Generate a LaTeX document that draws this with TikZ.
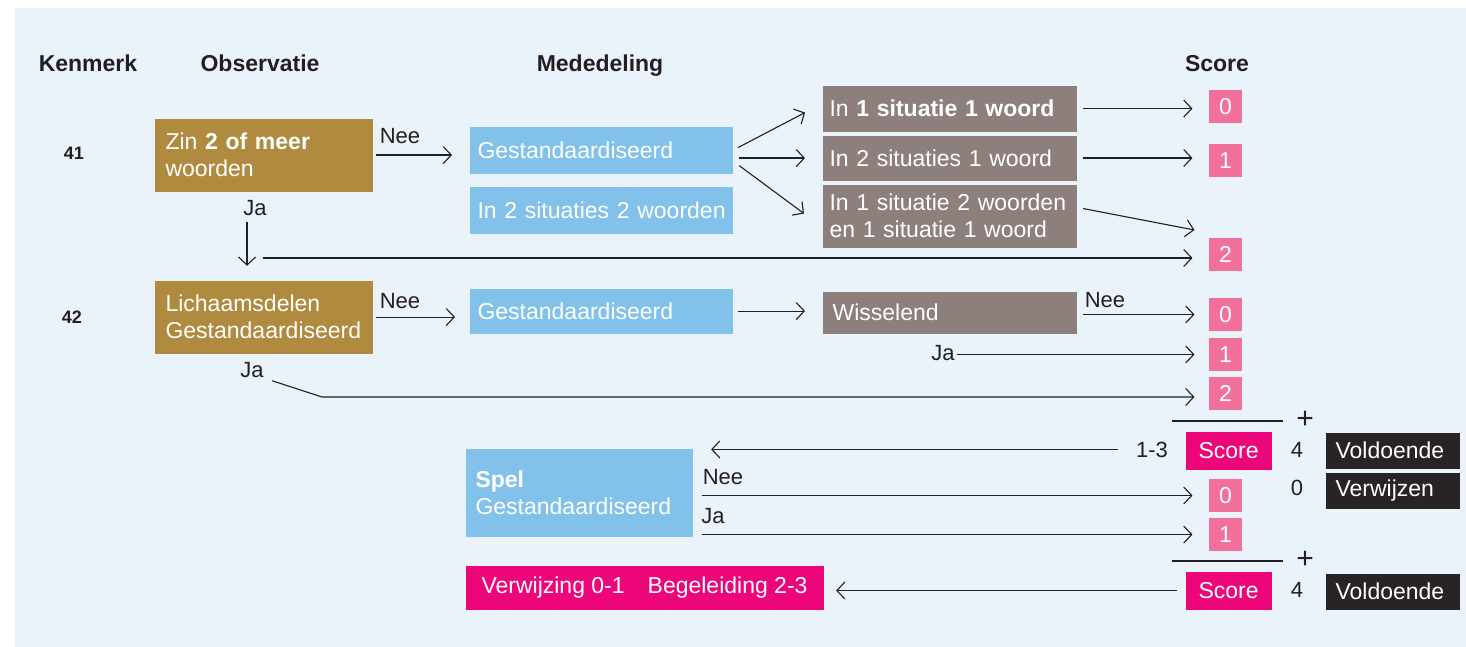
\documentclass[tikz,border=0pt]{standalone}
\usepackage{fontspec}
\setmainfont{Liberation Sans}
\usetikzlibrary{arrows.meta}

\definecolor{bgblue}{HTML}{EAF2FA}
\definecolor{gold}{HTML}{B08A3E}
\definecolor{sky}{HTML}{82C1EA}
\definecolor{taupe}{HTML}{8D7F7C}
\definecolor{rose}{HTML}{F1709C}
\definecolor{magenta}{HTML}{EC0679}
\definecolor{darkbox}{HTML}{282426}
\definecolor{ink}{HTML}{231F20}

\tikzset{every picture/.style={line width=1.1pt},
  arr/.style={draw=ink, -{Straight Barb[length=8pt,width=17pt]}},
  box/.style={anchor=north west, inner ysep=0pt, align=left, text=white, font=\fontsize{23}{27}\selectfont},
  goldbox/.style={box, fill=gold, inner xsep=11pt, text width=196pt, minimum height=73pt},
  bluebox/.style={box, fill=sky, inner xsep=8pt, text width=247pt},
  greybox/.style={box, fill=taupe, inner xsep=7pt, text width=240pt},
  pinkbox/.style={fill=rose, text=white, minimum size=33pt, inner sep=0pt, font=\fontsize{23}{27}\selectfont},
  scorebox/.style={anchor=north west, fill=magenta, text=white, minimum width=86pt, minimum height=38pt, inner sep=0pt, font=\fontsize{23}{27}\selectfont},
  darkbox/.style={box, fill=darkbox, inner xsep=10pt, text width=114pt, minimum height=36pt},
  headtext/.style={anchor=base, inner sep=0pt, text=ink, font=\fontsize{23}{27}\selectfont\bfseries},
  nrtext/.style={anchor=base, inner sep=0pt, text=ink, font=\fontsize{18}{22}\selectfont\bfseries},
  lbltext/.style={anchor=base, inner sep=0pt, text=ink, font=\fontsize{22}{26}\selectfont}}

\begin{document}
\begin{tikzpicture}[x=1pt,y=1pt,yscale=-1,xscale=1]
%Shape: Background
\fill[bgblue] (15,8) rectangle (1466,647);
\useasboundingbox (0,0) rectangle (1466,647);

% Text Node: headers
\draw (88,72) node (hKenmerk) [headtext] {Kenmerk};
\draw (260,72) node (hObservatie) [headtext] {Observatie};
\draw (600,72) node (hMededeling) [headtext] {Mededeling};
\draw (1217,72) node (hScore) [headtext] {Score};
% Text Node
\draw (74,160) node (nr41) [nrtext] {41};
\draw (72,323) node (nr42) [nrtext] {42};

%Shape: Observatie
\draw (154,118) node (zin) [goldbox] {Zin \textbf{2 of meer}\\woorden};
\draw (154,280) node (lich) [goldbox] {Lichaamsdelen\\Gestandaardiseerd};

%Shape: Mededeling
\draw (469,126) node (gest41) [bluebox, minimum height=47pt] {Gestandaardiseerd};
\draw (469,186) node (sit22) [bluebox, minimum height=47pt] {\mbox{In 2 situaties 2 woorden}};
\draw (469,288) node (gest42) [bluebox, minimum height=45pt] {Gestandaardiseerd};
\draw (465,448) node (spel) [bluebox, inner xsep=10pt, text width=207pt, minimum height=88pt] {\textbf{Spel}\\Gestandaardiseerd};

%Shape: situaties
\draw (822,85) node (sit11) [greybox, minimum height=46pt] {In \textbf{1 situatie 1 woord}};
\draw (822,135) node (sit21) [greybox, minimum height=45pt] {In 2 situaties 1 woord};
\draw (822,184) node (sitmix) [greybox, minimum height=63pt] {In 1 situatie 2 woorden\\en 1 situatie 1 woord};
\draw (822,291) node (wissel) [greybox, inner xsep=10pt, text width=234pt, minimum height=42pt] {Wisselend};

%Shape: scores
\draw (1225.5,106.5) node (s41a) [pinkbox] {0};
\draw (1225.5,160.5) node (s41b) [pinkbox] {1};
\draw (1225.5,254.5) node (s41c) [pinkbox] {2};
\draw (1225.5,314.5) node (s42a) [pinkbox] {0};
\draw (1225.5,354.5) node (s42b) [pinkbox] {1};
\draw (1225.5,393.5) node (s42c) [pinkbox] {2};
\draw (1225.5,495.5) node (s43a) [pinkbox] {0};
\draw (1225.5,534.5) node (s43b) [pinkbox] {1};

%Shape: totals
\draw[draw=ink, line width=2pt] (1172,421) -- (1283,421);
\draw (1305,420) node (plus1) [lbltext, anchor=center, font=\fontsize{30}{30}\selectfont] {+};
\draw[draw=ink, line width=2pt] (1172,561) -- (1283,561);
\draw (1305,560) node (plus2) [lbltext, anchor=center, font=\fontsize{30}{30}\selectfont] {+};
\draw (1185,431) node (score1) [scorebox] {Score};
\draw (1185,571) node (score2) [scorebox] {Score};
\draw (1297,457) node (n4a) [lbltext] {4};
\draw (1297,495) node (n0) [lbltext] {0};
\draw (1297,597) node (n4b) [lbltext] {4};
\draw (1325,432) node (vold1) [darkbox] {Voldoende};
\draw (1325,472) node (verwz) [darkbox] {Verwijzen};
\draw (1325,573) node (vold2) [darkbox] {Voldoende};
\draw (465,565) node (verw) [scorebox, minimum width=358pt, minimum height=44pt] {Verwijzing 0-1\quad Begeleiding 2-3};

% Kenmerk 41
\draw (400,144) node (nee41) [lbltext] {Nee};
\draw [arr] ([xshift=3pt]zin.east) -- ([xshift=-17pt]zin.east -| gest41.west);
\draw (255,215) node (ja41) [lbltext] {Ja};
\draw [arr] ([xshift=-8pt,yshift=6pt]ja41.south) -- ++(0,44);
\coordinate (j41) at (263,258);
\draw [arr] (j41) -- ([xshift=-16pt]j41 -| s41c.west);
\draw [arr] ([xshift=5pt,yshift=-2.5pt]gest41.east) -- ([xshift=-17pt,yshift=4pt]sit11.west);
\draw [arr] ([xshift=6pt]gest41.east |- sit21.west) -- ([xshift=-17pt]sit21.west);
\draw [arr] ([xshift=6pt,yshift=15.5pt]gest41.east) -- ([xshift=-18pt,yshift=-2.5pt]sitmix.west);
\draw [arr] ([xshift=6pt]sit11.east) -- ([xshift=-16pt]sit11.east -| s41a.west);
\draw [arr] ([xshift=6pt]sit21.east) -- ([xshift=-16pt]sit21.east -| s41b.west);
\draw [arr] ([xshift=6pt,yshift=-7.5pt]sitmix.east) -- ([xshift=-14pt,yshift=-24.5pt]s41c.west);

% Kenmerk 42
\draw (400,308) node (nee42) [lbltext] {Nee};
\draw [arr] ([xshift=3pt]lich.east) -- ([xshift=-14pt]lich.east -| gest42.west);
\draw (252,377) node (ja42) [lbltext] {Ja};
\coordinate (k42) at (322,397);
\draw [arr, shorten >=14pt] ([xshift=8pt,yshift=3pt]ja42.south east) -- (k42) -- (k42 -| s42c.west);
\draw [arr] ([xshift=5pt]gest42.east) -- ([xshift=-17pt]gest42.east -| wissel.west);
\draw (1105,307) node (neeW) [lbltext] {Nee};
\draw [arr] ([xshift=6pt]s42a.west -| wissel.east) -- ([xshift=-14pt]s42a.west);
\draw (943,360) node (jaW) [lbltext] {Ja};
\draw [arr] ([xshift=2pt]jaW.east |- s42b.west) -- ([xshift=-14pt]s42b.west);

% Spel
\draw (1152,457) node (l13) [lbltext] {1-3};
\draw [arr] ([xshift=-18pt]l13.west) -- ([xshift=18pt]l13.west -| spel.east);
\draw (723,484) node (neeS) [lbltext] {Nee};
\draw [arr] ([xshift=9pt]spel.east |- s43a.west) -- ([xshift=-16pt]s43a.west);
\draw (713,523) node (jaS) [lbltext] {Ja};
\draw [arr] ([xshift=9pt]spel.east |- s43b.west) -- ([xshift=-16pt]s43b.west);
\draw [arr] ([xshift=-8pt]score2.west) -- ([xshift=12pt]score2.west -| verw.east);

\end{tikzpicture}
\end{document}
